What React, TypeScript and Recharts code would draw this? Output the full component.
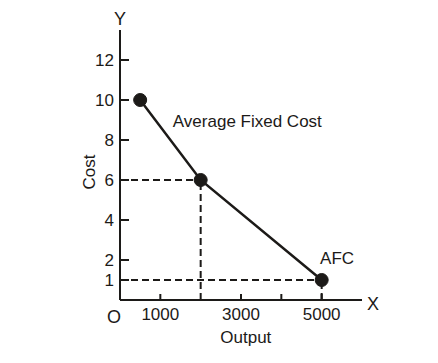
import React from "react";
import { LineChart, Line, XAxis, YAxis, ReferenceLine, ReferenceDot, Label } from "recharts";

const outputs = [500, 2000, 5000];
const afcValues = [10, 6, 1];
const yTicks = [1, 2, 4, 6, 8, 10, 12];
const xTicks = [1000, 3000, 4000, 5000];
const xTickLabels = [1000, 3000, 5000];
const guidePoints = [
  { x: 2000, y: 6 },
  { x: 5000, y: 1 },
];

const data = outputs.map((x, i) => ({ x, afc: afcValues[i] }));

const INK = "#1c1a18";
const FONT = "'Liberation Sans', Arial, Helvetica, sans-serif";
const FS = 17;

const YTick = (props: any) => {
  const { x, y, payload } = props;
  return (
    <g>
      <line x1={x} y1={y} x2={x + 9} y2={y} stroke={INK} strokeWidth={2} />
      <text x={x - 6} y={y} dy="0.36em" textAnchor="end" fontSize={FS} fontFamily={FONT} fill={INK}>
        {payload.value}
      </text>
    </g>
  );
};

const XTick = (props: any) => {
  const { x, y, payload } = props;
  const showLabel = xTickLabels.includes(payload.value);
  return (
    <g>
      <line x1={x} y1={y} x2={x} y2={y - 6} stroke={INK} strokeWidth={2} />
      {showLabel && (
        <text x={x} y={y + 20} textAnchor="middle" fontSize={FS} fontFamily={FONT} fill={INK}>
          {payload.value}
        </text>
      )}
    </g>
  );
};

const XAxisLabels = (props: any) => {
  const vb = props.viewBox;
  return (
    <g fontFamily={FONT} fill={INK} fontSize={FS}>
      <text x={vb.x + vb.width * 0.52} y={vb.y + 43} textAnchor="middle">Output</text>
      <text x={vb.x + vb.width + 11} y={vb.y + 10} textAnchor="middle" fontSize={18}>X</text>
      <text x={vb.x - 6} y={vb.y + 23} textAnchor="middle" fontSize={18}>O</text>
    </g>
  );
};

const YAxisLabels = (props: any) => {
  const vb = props.viewBox;
  const ax = vb.x + vb.width;
  return (
    <g fontFamily={FONT} fill={INK} fontSize={FS}>
      <text x={ax} y={vb.y - 5} textAnchor="middle" fontSize={18}>Y</text>
      <text
        x={ax - 25}
        y={vb.y + 142}
        textAnchor="middle"
        transform={`rotate(-90 ${ax - 25} ${vb.y + 142})`}
      >
        Cost
      </text>
    </g>
  );
};

const TextAt = (text: string, dx: number, dy: number) => (props: any) => {
  const vb = props.viewBox;
  return (
    <text x={vb.x + dx} y={vb.y + dy} fontSize={FS} fontFamily={FONT} fill={INK}>
      {text}
    </text>
  );
};

export default function App() {
  return (
    <LineChart
      width={430}
      height={355}
      data={data}
      margin={{ top: 22, right: 76, bottom: 33, left: 72 }}
      style={{ background: "#fff" }}
    >
      <XAxis
        dataKey="x"
        type="number"
        domain={[0, 6000]}
        ticks={xTicks}
        interval={0}
        tick={<XTick />}
        tickLine={false}
        tickSize={0}
        tickMargin={0}
        axisLine={{ stroke: INK, strokeWidth: 2 }}
        height={30}
      >
        <Label content={<XAxisLabels />} />
      </XAxis>
      <YAxis
        type="number"
        domain={[0, 13.5]}
        ticks={yTicks}
        interval={0}
        tick={<YTick />}
        tickLine={false}
        tickSize={0}
        tickMargin={0}
        axisLine={{ stroke: INK, strokeWidth: 2 }}
        width={40}
      >
        <Label content={<YAxisLabels />} />
      </YAxis>
      {guidePoints.map((p, i) => (
        <ReferenceLine
          key={"h" + i}
          segment={[{ x: 0, y: p.y }, { x: p.x, y: p.y }]}
          stroke={INK}
          strokeWidth={2}
          strokeDasharray="7 4"
        />
      ))}
      {guidePoints.map((p, i) => (
        <ReferenceLine
          key={"v" + i}
          segment={[{ x: p.x, y: 0 }, { x: p.x, y: p.y }]}
          stroke={INK}
          strokeWidth={2}
          strokeDasharray="7 4"
        />
      ))}
      <Line
        dataKey="afc"
        stroke={INK}
        strokeWidth={2.5}
        dot={{ r: 6.5, fill: INK, stroke: INK, strokeWidth: 1 }}
        isAnimationActive={false}
      />
      <ReferenceDot x={1310} y={8.67} r={0} stroke="none" label={TextAt("Average Fixed Cost", 0, 0)} />
      <ReferenceDot x={4960} y={1.8} r={0} stroke="none" label={TextAt("AFC", 0, 0)} />
    </LineChart>
  );
}
